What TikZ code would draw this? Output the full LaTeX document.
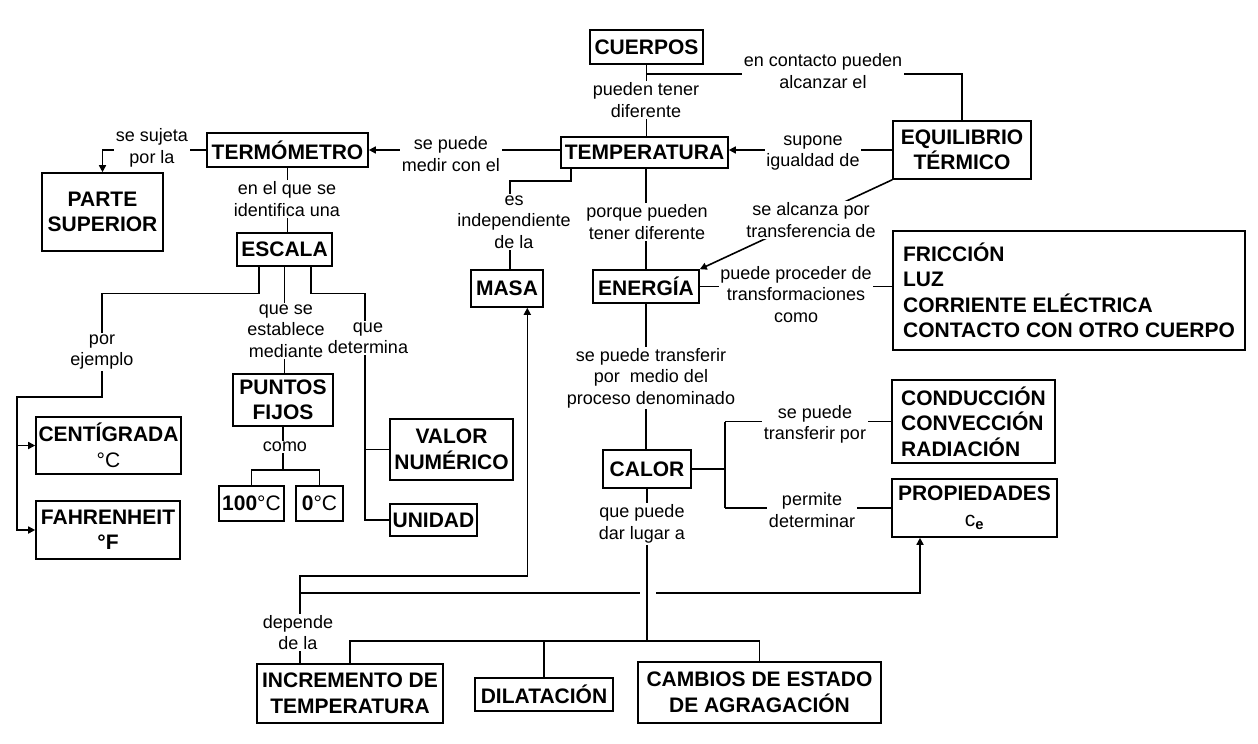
\documentclass[tikz,border=0pt]{standalone}
\usepackage{fontspec}
\setmainfont{Liberation Sans}
\usetikzlibrary{arrows.meta}
\begin{document}
\begin{tikzpicture}[x=1pt,y=-1pt,
  box/.style={draw, line width=1.6pt, font=\fontsize{21}{25.5}\selectfont\bfseries, align=center, inner sep=0pt},
  lbl/.style={fill=white, font=\fontsize{18}{21.5}\selectfont, align=center, inner sep=1.5pt},
  ln/.style={line width=1.6pt},
  arr/.style={line width=1.6pt, -{Triangle[length=7pt,width=7pt]}}]
\path[use as bounding box, fill=white] (0,0) rectangle (1258,744);
% boxes
\node[box, minimum width=113pt, minimum height=34pt] (cuerpos) at (646.5,47) {CUERPOS};
\node[box, minimum width=167pt, minimum height=31pt] (temp) at (644.5,152.5) {TEMPERATURA};
\node[box, minimum width=161pt, minimum height=34pt] (term) at (287.5,150) {TERMÓMETRO};
\node[box, minimum width=121pt, minimum height=78pt] (parte) at (102.5,212) {PARTE\\SUPERIOR};
\node[box, minimum width=95pt, minimum height=33pt] (escala) at (284.5,249.5) {ESCALA};
\node[box, minimum width=72pt, minimum height=37pt] (masa) at (507,288.5) {MASA};
\node[box, minimum width=106pt, minimum height=33pt] (energia) at (646,286.5) {ENERGÍA};
\node[box, minimum width=138pt, minimum height=58pt] (equil) at (962,150) {EQUILIBRIO\\TÉRMICO};
\node[box, align=left, minimum width=352pt, minimum height=119pt] (fric) at (1069,290.5) {FRICCIÓN\\LUZ\\CORRIENTE ELÉCTRICA\\CONTACTO CON OTRO CUERPO};
\node[box, minimum width=145pt, minimum height=57pt] (cent) at (108.5,445.5) {CENTÍGRADA\\{\mdseries °C}};
\node[box, minimum width=144pt, minimum height=58pt] (fahr) at (108,530) {FAHRENHEIT\\°F};
\node[box, minimum width=100pt, minimum height=52pt] (puntos) at (283,400) {PUNTOS\\FIJOS};
\node[box, minimum width=65pt, minimum height=35pt] (cien) at (251.5,503.5) {100{\mdseries °C}};
\node[box, minimum width=47pt, minimum height=35pt] (cero) at (319.5,503.5) {0{\mdseries °C}};
\node[box, minimum width=123pt, minimum height=61pt] (valor) at (451.5,449.5) {VALOR\\NUMÉRICO};
\node[box, minimum width=87pt, minimum height=32pt] (unidad) at (433.5,520) {UNIDAD};
\node[box, minimum width=88pt, minimum height=38pt] (calor) at (647,469) {CALOR};
\node[box, align=left, minimum width=163pt, minimum height=83pt] (cond) at (973.5,421.5) {CONDUCCIÓN\\CONVECCIÓN\\RADIACIÓN};
\node[box, minimum width=165pt, minimum height=58pt] (prop) at (974.5,508) {PROPIEDADES\\{\mdseries c}\textsubscript{e}};
\node[box, minimum width=186pt, minimum height=59pt] (incr) at (350,693.5) {INCREMENTO DE\\TEMPERATURA};
\node[box, minimum width=138pt, minimum height=33pt] (dil) at (544,694.5) {DILATACIÓN};
\node[box, minimum width=243pt, minimum height=61pt] (camb) at (759.5,692.5) {CAMBIOS DE ESTADO\\DE AGRAGACIÓN};
% helper coordinates
\coordinate (eL1) at (102,293.5);
\coordinate (eL2) at (17,397);
\coordinate (eR) at (365,293.5);
\coordinate (pf) at (283,470);
\coordinate (bus) at (647,641);
\coordinate (cb) at (725,469);
\coordinate (dm) at (300,576);
\coordinate (pl) at (300,593);
\coordinate (g1) at (640,593);
\coordinate (g2) at (656,593);
% connectors
\draw[ln] (cuerpos.south) -- (cuerpos.south |- temp.north);
\draw[ln] ([yshift=-9pt]cuerpos.south) -| (equil.north);
\draw[arr] (term.east -| temp.west) -- (term.east);
\draw[arr] (term.west) -| (parte.north);
\draw[ln] (term.south) -- (term.south |- escala.north);
\draw[ln] ([xshift=-73.5pt]temp.south) -- ++(0,12) -| ([xshift=3pt]masa.north);
\draw[ln] (energia.north |- temp.south) -- (energia.north);
\draw[arr] (equil.west) -- (equil.west -| temp.east);
\draw[arr] (equil.south west) -- (energia.north east);
\draw[ln] (energia.east) -- (energia.east -| fric.west);
\draw[arr] ([xshift=-25.5pt]escala.south) |- (eL1) |- (eL2) |- (fahr.west);
\draw[arr] (eL2 |- cent.west) -- (cent.west);
\draw[ln] (escala.south) -- (escala.south |- puntos.north);
\draw[ln] ([xshift=26.5pt]escala.south) |- (eR) |- (unidad.west);
\draw[ln] (eR |- valor.west) -- (valor.west);
\draw[ln] (puntos.south) -- (pf);
\draw[ln] (cien.north) |- (pf) -| (cero.north);
\draw[ln] (energia.south) -- (energia.south |- calor.north);
\draw[ln] (calor.south) -- (bus);
\draw[ln] (incr.north) |- (bus) -| (camb.north);
\draw[ln] (dil.north) -- (dil.north |- bus);
\draw[ln] (calor.east) -- (cb);
\draw[ln] (cb |- cond.west) -- (cond.west);
\draw[ln] (cb |- prop.west) -- (prop.west);
\draw[ln] (cb |- cond.west) -- (cb |- prop.west);
\draw[arr] ([xshift=-50pt]incr.north) -- (dm) -| ([xshift=20.3pt]masa.south);
\draw[ln] (pl) -- (g1);
\draw[arr] (g2) -| ([xshift=-54.5pt]prop.south);
% labels
\node[lbl] (l1) at (646,100) {pueden tener\\diferente};
\node[lbl] (l2) at (823,71) {en contacto pueden\\alcanzar el};
\node[lbl] (l3) at (451,154) {se puede\\medir con el};
\node[lbl] (l4) at (152,148) {se sujeta\\por la};
\node[lbl] (l5) at (287,199) {en el que se\\identifica una};
\node[lbl] (l6) at (514,222) {es\\independiente\\de la};
\node[lbl] (l7) at (647,222) {porque pueden\\tener diferente};
\node[lbl] (l8) at (813,153) {supone\\igualdad de};
\node[lbl] (l9) at (811,220) {se alcanza por\\transferencia de};
\node[lbl] (l10) at (796,294.5) {puede proceder de\\transformaciones\\como};
\node[lbl] (l11) at (102,352) {por\\ejemplo};
\node[lbl] (l12) at (286,331) {que se\\establece\\mediante};
\node[lbl] (l13) at (368,338) {que\\determina};
\node[lbl] (l14) at (285,447) {como};
\node[lbl] (l15) at (651,378) {se puede transferir\\por\ \ medio del\\proceso denominado};
\node[lbl] (l16) at (815,424.5) {se puede\\transferir por};
\node[lbl] (l17) at (812,510) {permite\\determinar};
\node[lbl] (l18) at (642,524) {que puede\\dar lugar a};
\node[lbl] (l19) at (298,632.5) {depende\\de la};
\end{tikzpicture}
\end{document}
